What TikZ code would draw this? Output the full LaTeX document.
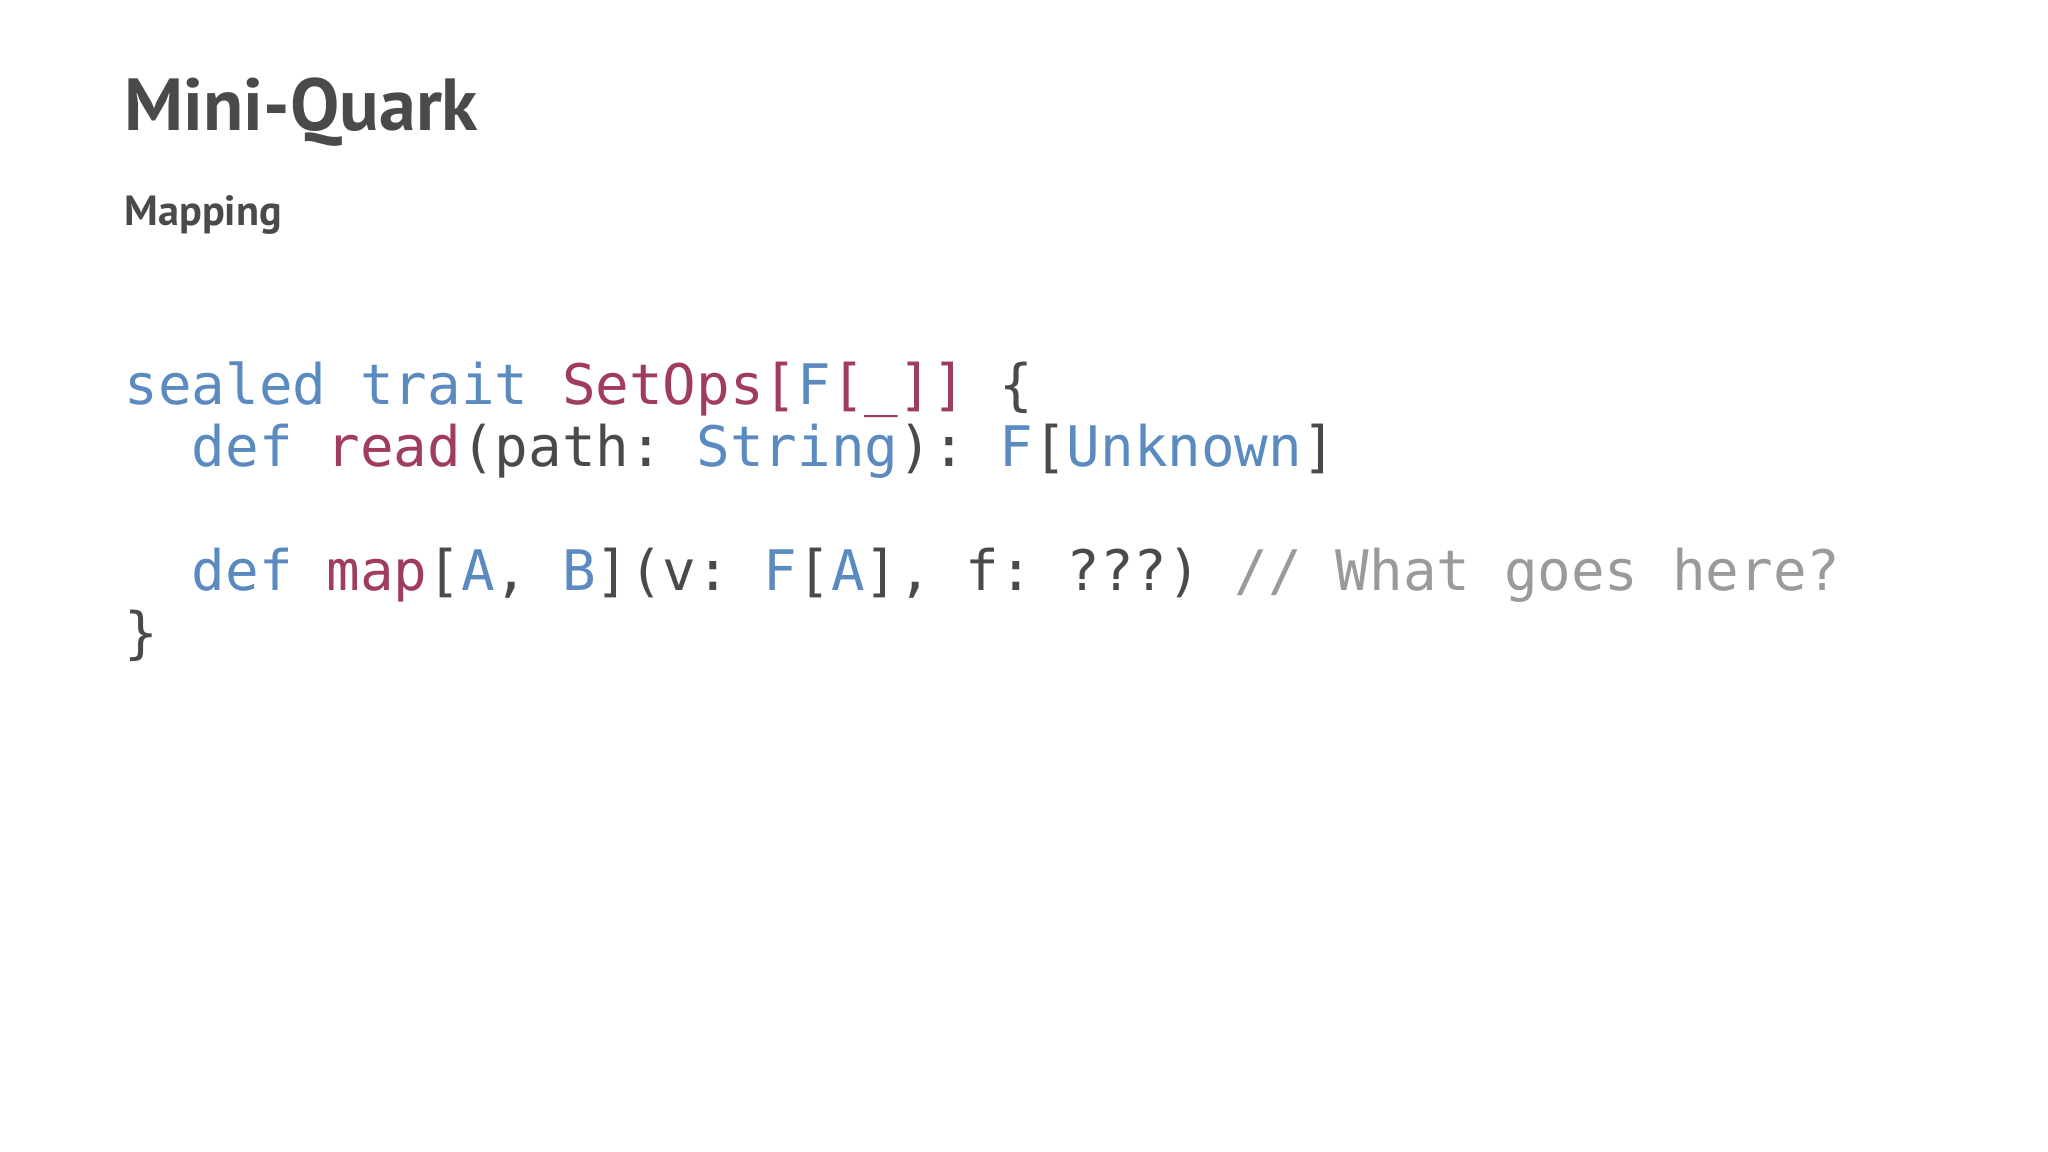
\documentclass[tikz,border=0pt]{standalone}
\usepackage{fontspec}
\setmainfont{PT Sans}
\setmonofont{DejaVu Sans Mono}
\usetikzlibrary{positioning}
\definecolor{kw}{HTML}{5A8AC0}
\definecolor{nm}{HTML}{A03C62}
\definecolor{tx}{HTML}{4A4A4A}
\definecolor{cm}{HTML}{9A9A9A}
\newcommand{\K}[1]{\textcolor{kw}{#1}}
\newcommand{\N}[1]{\textcolor{nm}{#1}}
\newcommand{\C}[1]{\textcolor{cm}{#1}}
\begin{document}
\begin{tikzpicture}[x=1cm,y=1cm,
    every node/.style={inner sep=0pt,anchor=base west,text=tx},
    codeline/.style={font=\ttfamily\fontsize{15.9}{17.6}\selectfont}]
  \useasboundingbox (0,0) rectangle (20.48,11.52);
  \node[font=\bfseries\fontsize{21}{24}\selectfont] (title) at (1.24,10.21) {Mini-Quark};
  \node[font=\bfseries\fontsize{12}{14}\selectfont] (sub) at (1.24,9.26) {Mapping};

  \node[codeline] (l1) at (1.24,7.47) {\K{sealed trait} \N{SetOps[}\K{F}\N{[\_]]} \{};
  \node[codeline] (l2) at (1.24,6.85) {\ \ \K{def} \N{read}(path: \K{String}): \K{F}[\K{Unknown}]};
  \node[codeline] (l3) at (1.24,5.61) {\ \ \K{def} \N{map}[\K{A}, \K{B}](v: \K{F}[\K{A}], f: ???) \C{// What goes here?}};
  \node[codeline] (l4) at (1.24,4.99) {\}};
\end{tikzpicture}
\end{document}
